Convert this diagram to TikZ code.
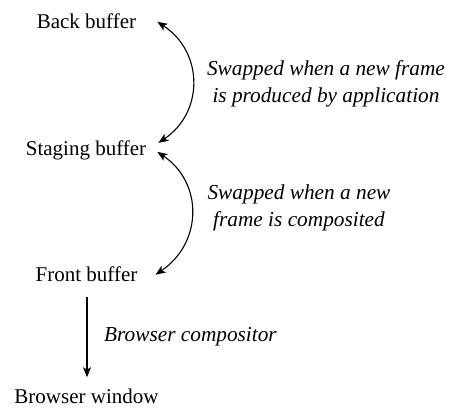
\documentclass[tikz,border=0pt]{standalone}
\usepackage{fontspec}
\setmainfont{Liberation Serif}
\usetikzlibrary{arrows.meta,calc}
\begin{document}
\begin{tikzpicture}[x=1pt,y=-1pt,
  buf/.style={font=\fontsize{21}{24}\selectfont, inner sep=0pt, anchor=base},
  note/.style={font=\fontsize{21.3}{27}\selectfont\itshape, inner sep=0pt, align=center},
  link/.style={line width=1.1pt, -{Stealth[length=10pt,width=8pt,inset=2.5pt]}},
  swap/.style={line width=1.1pt, {Stealth[length=10pt,width=8pt,inset=2.5pt]}-{Stealth[length=10pt,width=8pt,inset=2.5pt]}}]
\useasboundingbox (0,0) rectangle (452,408);
\node[buf] (back)    at (86.5,28)  {Back buffer};
\node[buf] (staging) at (86,155)   {Staging buffer};
\node[buf] (front)   at (86.5,281) {Front buffer};
\node[buf] (window)  at (86.5,403) {Browser window};
% end points of the two swap arcs, just right of the buffer names
\coordinate (b1) at ($(back.east)+(21,1)$);
\coordinate (s1) at ($(staging.east)+(12,-7)$);
\coordinate (s2) at ($(staging.east)+(11,2)$);
\coordinate (f1) at ($(front.east)+(18,1)$);
\draw[swap] (b1) .. controls +(47,31) and +(45,-30) .. (s1);
\draw[swap] (s2) .. controls +(46,31) and +(47,-32) .. (f1);
\draw[link] ([xshift=0.5pt,yshift=-16pt]front.south) -- ([xshift=0.5pt,yshift=11pt]window.north);
\node[note] (n1) at (326,84) {Swapped when a new frame\\is produced by application};
\node[note] (n2) at (299,208) {Swapped when a new\\frame is composited};
\node[note, anchor=base west] (n3) at (104,341) {Browser compositor};
\end{tikzpicture}
\end{document}
